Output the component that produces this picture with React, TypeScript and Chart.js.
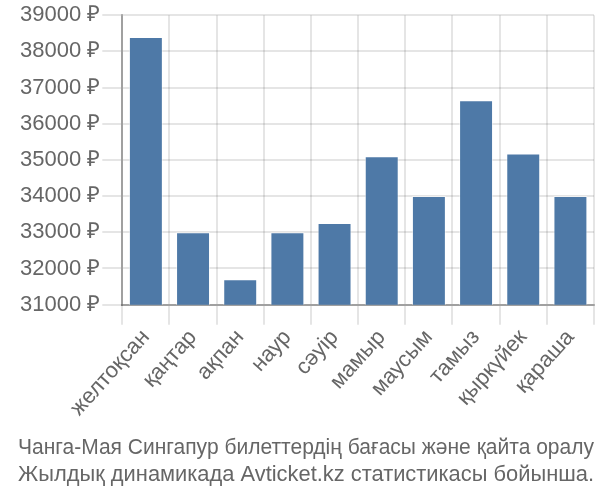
import React, { useEffect, useRef } from "react";
import { Chart, registerables } from "chart.js";

Chart.register(...registerables);

const categories = ["желтоқсан", "қаңтар", "ақпан", "наур", "сәуір", "мамыр", "маусым", "тамыз", "қыркүйек", "қараша"];
const prices = [38400, 33000, 31700, 33000, 33260, 35100, 34000, 36650, 35180, 34000];
const titleLines = [
  "Чанга-Мая Сингапур билеттердің бағасы және қайта оралу",
  "Жылдық динамикада Avticket.kz статистикасы бойынша.",
];
const yMin = 31000;
const yMax = 39000;
const yStep = 1000;

export default function App() {
  const ref = useRef<HTMLCanvasElement | null>(null);
  useEffect(() => {
    document.body.style.margin = "0";
    const ctx = ref.current!;
    const chart = new Chart(ctx, {
      type: "bar",
      data: {
        labels: categories,
        datasets: [
          {
            data: prices,
            backgroundColor: "#4e79a7",
            borderColor: "rgba(255,255,255,0.5)",
            borderWidth: 1,
          },
        ],
      },
      options: {
        animation: false,
        responsive: false,
        maintainAspectRatio: false,
        layout: { padding: { left: 18, right: 6, top: 3, bottom: 0 } },
        plugins: {
          legend: { display: false },
          tooltip: { enabled: false },
          title: {
            display: true,
            position: "bottom",
            text: titleLines,
            color: "#666",
            font: { family: "Liberation Sans", size: 22, weight: "normal", lineHeight: 1.2 },
            padding: { top: 14, bottom: 12 },
          },
        },
        scales: {
          x: {
            grid: { color: "rgba(0,0,0,0.1)", lineWidth: 2, tickLength: 20 },
            border: { color: "rgba(0,0,0,0.3)", width: 2 },
            ticks: {
              color: "#666",
              font: { family: "Liberation Sans", size: 22 },
              maxRotation: 48,
              minRotation: 48,
              padding: 0,
            },
          },
          y: {
            min: yMin,
            max: yMax,
            grid: { color: "rgba(0,0,0,0.1)", lineWidth: 2, tickLength: 20 },
            border: { color: "rgba(0,0,0,0.3)", width: 2 },
            ticks: {
              stepSize: yStep,
              color: "#666",
              font: { family: "Liberation Sans", size: 22 },
              padding: 2,
              callback: (v: any) => `${v} ₽`,
            },
          },
        },
      },
    });
    return () => chart.destroy();
  }, []);
  return <canvas ref={ref} width={600} height={500} style={{ display: "block" }} />;
}
